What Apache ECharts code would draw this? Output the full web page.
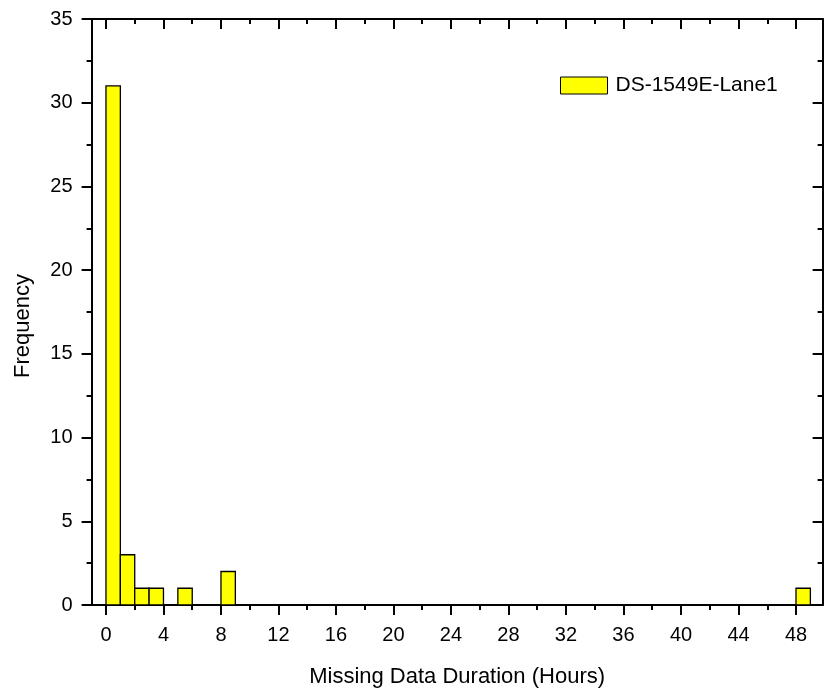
<!DOCTYPE html>
<html>
<head>
<meta charset="utf-8">
<script src="https://cdn.jsdelivr.net/npm/echarts@6/dist/echarts.min.js"></script>
<style>
  html, body { margin: 0; padding: 0; background: #fff; }
  #chart { width: 825px; height: 694px; }
</style>
</head>
<body>
<div id="chart"></div>
<script>
// histogram bins (hours), width 1
var binStarts = [0, 1, 2, 3, 5, 8, 48];
var counts = [31, 3, 1, 1, 1, 2, 1];
var binWidth = 1;
var seriesName = 'DS-1549E-Lane1';

var xMajor = [0, 4, 8, 12, 16, 20, 24, 28, 32, 36, 40, 44, 48];
var xMinor = [2, 6, 10, 14, 18, 22, 26, 30, 34, 38, 42, 46];

var font = 'Liberation Sans, Arial, sans-serif';
var xMin = -1, xMax = 49.85;

var myChart = echarts.init(document.getElementById('chart'));

var lineStyle = { color: '#000', width: 2 };

function xAxisPart(pos, major, inside, showLine) {
  return {
    type: 'value',
    position: pos,
    min: xMin,
    max: xMax,
    axisLine: { show: showLine, onZero: false, lineStyle: lineStyle },
    axisTick: {
      show: true,
      inside: inside,
      length: major ? 10 : 5,
      customValues: major ? xMajor : xMinor,
      lineStyle: lineStyle
    },
    axisLabel: { show: false },
    splitLine: { show: false }
  };
}

function yAxisPart(pos, inside) {
  return {
    type: 'value',
    position: pos,
    min: 0,
    max: 35,
    interval: 5,
    axisLine: { show: true, onZero: false, lineStyle: lineStyle },
    axisTick: { show: true, inside: inside, length: 10, lineStyle: lineStyle },
    minorTick: { show: true, splitNumber: 2, length: 5, lineStyle: lineStyle },
    axisLabel: { show: false },
    splitLine: { show: false }
  };
}

var xBottom = xAxisPart('bottom', true, false, true);
xBottom.axisLabel = {
  show: true,
  customValues: xMajor,
  margin: 20,
  fontSize: 20,
  fontFamily: font,
  color: '#000'
};
xBottom.name = 'Missing Data Duration (Hours)';
xBottom.nameLocation = 'middle';
xBottom.nameGap = 61;
xBottom.nameTextStyle = { fontSize: 22, fontFamily: font, color: '#000' };

var yLeft = yAxisPart('left', false);
yLeft.axisLabel = {
  show: true,
  margin: 19,
  fontSize: 20,
  fontFamily: font,
  color: '#000'
};
yLeft.name = 'Frequency';
yLeft.nameLocation = 'middle';
yLeft.nameGap = 58;
yLeft.nameTextStyle = { fontSize: 22, fontFamily: font, color: '#000', padding: [0, 28, 0, 0] };

var option = {
  animation: false,
  backgroundColor: '#fff',
  grid: { left: 91.6, right: 2.4, top: 19, bottom: 89, containLabel: false },
  legend: {
    data: [seriesName],
    left: 555,
    top: 70,
    icon: 'rect',
    itemWidth: 47,
    itemHeight: 17,
    itemStyle: { color: '#ffff00', borderColor: '#000', borderWidth: 1 },
    textStyle: { fontSize: 21, fontFamily: font, color: '#000', padding: [0, 0, 0, 3] }
  },
  xAxis: [
    xBottom,
    xAxisPart('bottom', false, false, false),
    xAxisPart('top', true, true, true),
    xAxisPart('top', false, true, false)
  ],
  yAxis: [
    yLeft,
    yAxisPart('right', true)
  ],
  series: [{
    name: seriesName,
    type: 'custom',
    xAxisIndex: 0,
    yAxisIndex: 0,
    itemStyle: { color: '#ffff00', borderColor: '#000', borderWidth: 1.3 },
    encode: { x: 0, y: 1 },
    data: binStarts.map(function (s, i) { return [s, counts[i]]; }),
    renderItem: function (params, api) {
      var x0 = api.value(0);
      var y = api.value(1);
      var p0 = api.coord([x0, y]);
      var p1 = api.coord([x0 + binWidth, 0]);
      return {
        type: 'rect',
        shape: { x: p0[0], y: p0[1], width: p1[0] - p0[0], height: p1[1] - p0[1] },
        style: { fill: '#ffff00', stroke: '#000', lineWidth: 1.3 }
      };
    }
  }]
};

myChart.setOption(option);
</script>
</body>
</html>
